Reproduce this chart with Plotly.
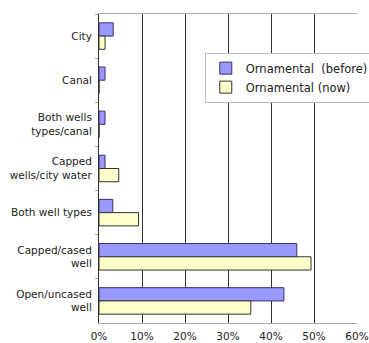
import plotly.graph_objects as go

categories = ["City", "Canal", "Both wells<br>types/canal", "Capped<br>wells/city water",
              "Both well types", "Capped/cased<br>well", "Open/uncased<br>well"]
before = [3.3, 1.4, 1.4, 1.4, 3.2, 46.0, 43.0]
now = [1.4, 0, 0, 4.6, 9.2, 49.3, 35.3]
xticks = [0, 10, 20, 30, 40, 50, 60]
xtick_labels = ["0%", "10%", "20%", "30%", "40%", "50%", "60%"]

fig = go.Figure()
fig.add_trace(go.Bar(y=categories, x=before, orientation="h", name="Ornamental&nbsp;&nbsp;(before)",
                     marker=dict(color="#9999FF", line=dict(color="#333366", width=1))))
fig.add_trace(go.Bar(y=categories, x=now, orientation="h", name="Ornamental (now)",
                     marker=dict(color="#FFFFCC", line=dict(color="#333333", width=1))))

fig.update_layout(
    width=369, height=343,
    margin=dict(l=99, r=12, t=14, b=20, autoexpand=False),
    paper_bgcolor="white", plot_bgcolor="white",
    barmode="group", bargap=0.4, bargroupgap=0,
    font=dict(family="DejaVu Sans", size=10, color="#222222"),
    legend=dict(x=1.065, y=0.875, xanchor="right", yanchor="top", traceorder="normal",
                bgcolor="white", bordercolor="#BBBBBB", borderwidth=1,
                font=dict(size=11.5), tracegroupgap=0, itemwidth=30),
    xaxis=dict(range=[0, 60], tickvals=xticks, ticktext=xtick_labels,
               showgrid=True, gridcolor="#333333", gridwidth=1,
               showline=True, linecolor="#AAAAAA", mirror=True, zeroline=False,
               ticks="", tickfont=dict(size=10.5), ticklabelstandoff=3,
               automargin=False, fixedrange=True),
    yaxis=dict(autorange="reversed", showline=True, linecolor="#333333",
               ticks="outside", ticklen=3, tickcolor="#999999", tickson="boundaries",
               showgrid=False, ticklabelstandoff=4, tickfont=dict(size=10.5),
               automargin=False),
    showlegend=True,
)

fig.write_html("out.html")
